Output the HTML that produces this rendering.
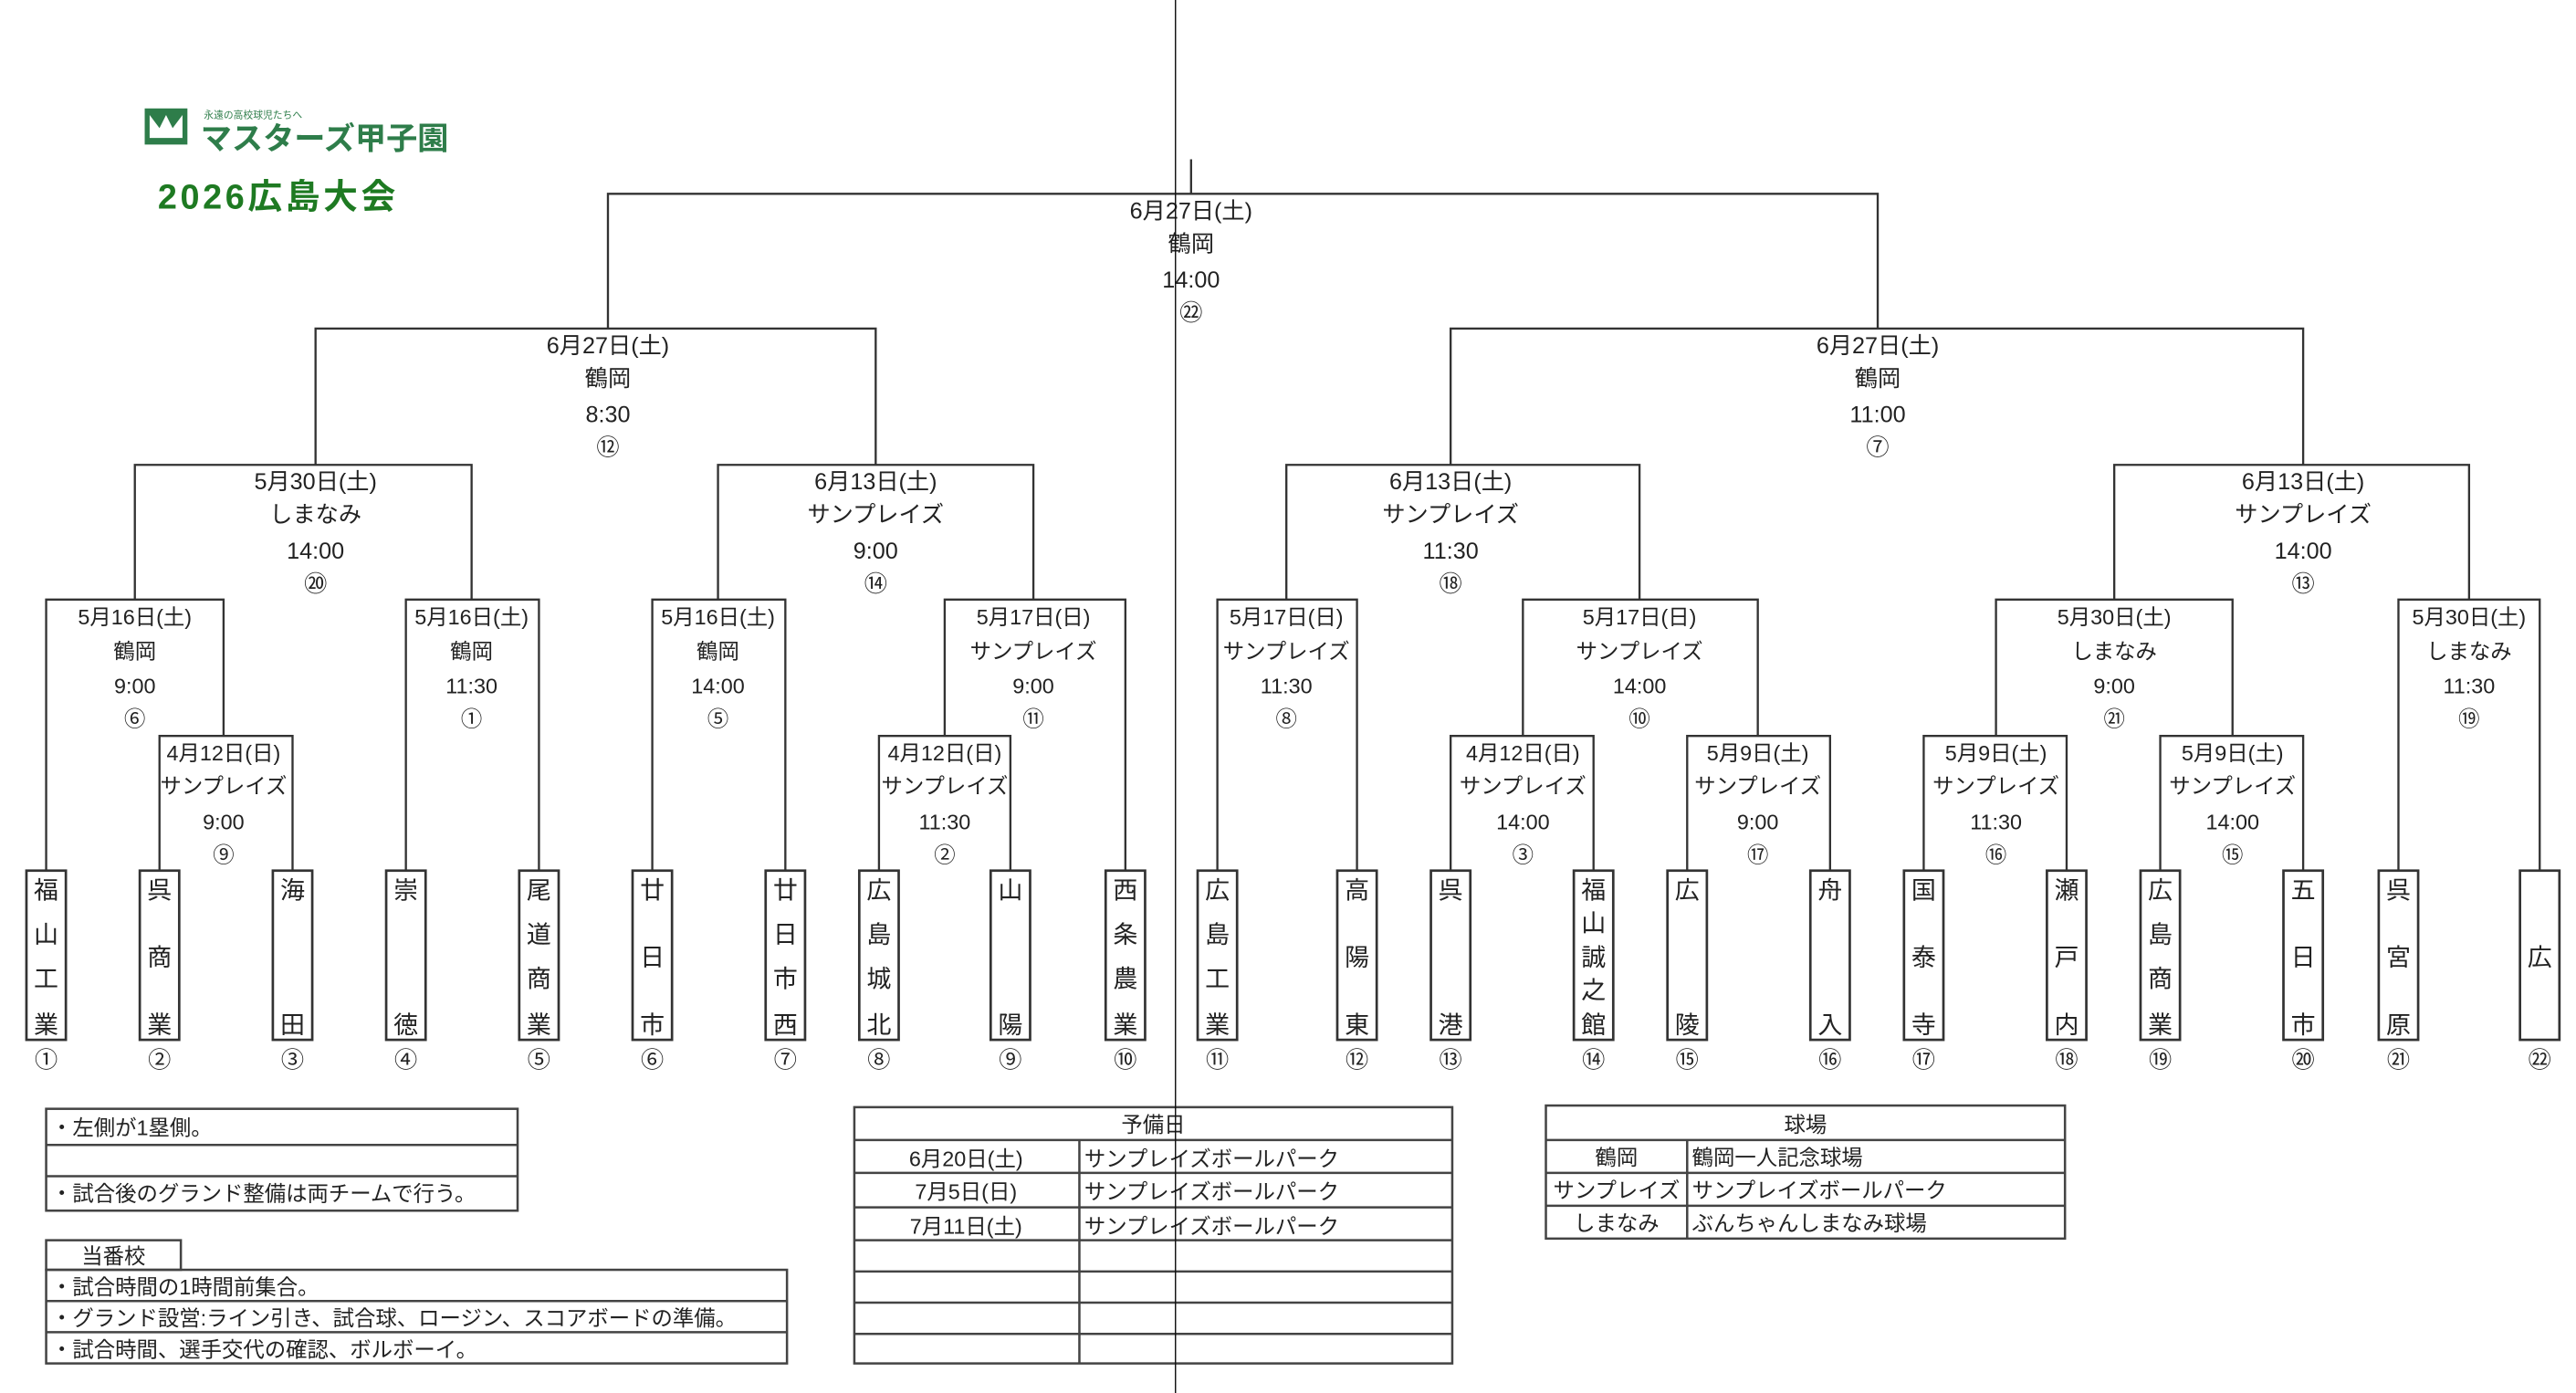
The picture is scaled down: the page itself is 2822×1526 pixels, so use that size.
<!DOCTYPE html>
<html><head><meta charset="utf-8"><style>
html,body{margin:0;padding:0;background:#fff;}
svg{display:block;}
text{font-family:"Liberation Sans","Noto Sans CJK JP",sans-serif;fill:#222;}
.c{text-anchor:middle;}
</style></head><body>
<svg width="2822" height="1526" viewBox="0 0 1568 848" xmlns="http://www.w3.org/2000/svg">
<rect width="1568" height="848" fill="#fff"/>
<!-- logo -->
<g>
<rect x="88" y="66" width="26" height="22" fill="#2e7d4a"/>
<path d="M91 70 L97 78 L101 70 L105 78 L111 70 V84 H91Z" fill="#fff"/>
<text x="124" y="72" font-size="6" style="fill:#2e7d4a">永遠の高校球児たちへ</text>
<text x="122" y="91" font-size="19" font-weight="bold" style="fill:#2e7d4a">マスターズ甲子園</text>
<text x="96" y="127" font-size="21" font-weight="bold" letter-spacing="2" style="fill:#1e7a22">2026広島大会</text>
</g>
<g fill="none" stroke="#333" stroke-width="1.3">
<path d="M370 200 V118 H1143 V200 M725 97 V118"/>
<path d="M192 283 V200 H533 V283 M883 283 V200 H1402 V283"/>
<path d="M82 365 V283 H287 V365 M437 365 V283 H629 V365 M783 365 V283 H998 V365 M1287 365 V283 H1503 V365"/>
<path d="M28 530 V365 H136 V448 M247 530 V365 H328 V530 M397 530 V365 H478 V530 M575 448 V365 H685 V530 M741 530 V365 H826 V530 M927 448 V365 H1070 V448 M1215 448 V365 H1359 V448 M1460 530 V365 H1546 V530"/>
<path d="M97 530 V448 H178 V530 M535 530 V448 H615 V530 M883 530 V448 H970 V530 M1027 530 V448 H1114 V530 M1171 530 V448 H1258 V530 M1315 530 V448 H1402 V530"/>
</g>
<!-- labels top levels -->
<g class="c" font-size="14">
<text x="725" y="133" class="c">6月27日(土)</text><text x="725" y="153" class="c">鶴岡</text><text x="725" y="175" class="c">14:00</text><text x="725" y="195" class="c">㉒</text>
<text x="370" y="215" class="c">6月27日(土)</text><text x="370" y="235" class="c">鶴岡</text><text x="370" y="257" class="c">8:30</text><text x="370" y="277" class="c">⑫</text>
<text x="1143" y="215" class="c">6月27日(土)</text><text x="1143" y="235" class="c">鶴岡</text><text x="1143" y="257" class="c">11:00</text><text x="1143" y="277" class="c">⑦</text>
<text x="192" y="298" class="c">5月30日(土)</text><text x="192" y="318" class="c">しまなみ</text><text x="192" y="340" class="c">14:00</text><text x="192" y="360" class="c">⑳</text>
<text x="533" y="298" class="c">6月13日(土)</text><text x="533" y="318" class="c">サンプレイズ</text><text x="533" y="340" class="c">9:00</text><text x="533" y="360" class="c">⑭</text>
<text x="883" y="298" class="c">6月13日(土)</text><text x="883" y="318" class="c">サンプレイズ</text><text x="883" y="340" class="c">11:30</text><text x="883" y="360" class="c">⑱</text>
<text x="1402" y="298" class="c">6月13日(土)</text><text x="1402" y="318" class="c">サンプレイズ</text><text x="1402" y="340" class="c">14:00</text><text x="1402" y="360" class="c">⑬</text>
</g>
<g font-size="13">
<text x="82" y="380" class="c">5月16日(土)</text><text x="82" y="401" class="c">鶴岡</text><text x="82" y="422" class="c">9:00</text><text x="82" y="442" class="c">⑥</text>
<text x="287" y="380" class="c">5月16日(土)</text><text x="287" y="401" class="c">鶴岡</text><text x="287" y="422" class="c">11:30</text><text x="287" y="442" class="c">①</text>
<text x="437" y="380" class="c">5月16日(土)</text><text x="437" y="401" class="c">鶴岡</text><text x="437" y="422" class="c">14:00</text><text x="437" y="442" class="c">⑤</text>
<text x="629" y="380" class="c">5月17日(日)</text><text x="629" y="401" class="c">サンプレイズ</text><text x="629" y="422" class="c">9:00</text><text x="629" y="442" class="c">⑪</text>
<text x="783" y="380" class="c">5月17日(日)</text><text x="783" y="401" class="c">サンプレイズ</text><text x="783" y="422" class="c">11:30</text><text x="783" y="442" class="c">⑧</text>
<text x="998" y="380" class="c">5月17日(日)</text><text x="998" y="401" class="c">サンプレイズ</text><text x="998" y="422" class="c">14:00</text><text x="998" y="442" class="c">⑩</text>
<text x="1287" y="380" class="c">5月30日(土)</text><text x="1287" y="401" class="c">しまなみ</text><text x="1287" y="422" class="c">9:00</text><text x="1287" y="442" class="c">㉑</text>
<text x="1503" y="380" class="c">5月30日(土)</text><text x="1503" y="401" class="c">しまなみ</text><text x="1503" y="422" class="c">11:30</text><text x="1503" y="442" class="c">⑲</text>

<text x="136" y="463" class="c">4月12日(日)</text><text x="136" y="483" class="c">サンプレイズ</text><text x="136" y="505" class="c">9:00</text><text x="136" y="525" class="c">⑨</text>
<text x="575" y="463" class="c">4月12日(日)</text><text x="575" y="483" class="c">サンプレイズ</text><text x="575" y="505" class="c">11:30</text><text x="575" y="525" class="c">②</text>
<text x="927" y="463" class="c">4月12日(日)</text><text x="927" y="483" class="c">サンプレイズ</text><text x="927" y="505" class="c">14:00</text><text x="927" y="525" class="c">③</text>
<text x="1070" y="463" class="c">5月9日(土)</text><text x="1070" y="483" class="c">サンプレイズ</text><text x="1070" y="505" class="c">9:00</text><text x="1070" y="525" class="c">⑰</text>
<text x="1215" y="463" class="c">5月9日(土)</text><text x="1215" y="483" class="c">サンプレイズ</text><text x="1215" y="505" class="c">11:30</text><text x="1215" y="525" class="c">⑯</text>
<text x="1359" y="463" class="c">5月9日(土)</text><text x="1359" y="483" class="c">サンプレイズ</text><text x="1359" y="505" class="c">14:00</text><text x="1359" y="525" class="c">⑮</text>
</g>
<!-- team boxes -->
<g fill="#fff" stroke="#333" stroke-width="1.5">
<rect x="16" y="530" width="24" height="103"/><rect x="85" y="530" width="24" height="103"/><rect x="166" y="530" width="24" height="103"/><rect x="235" y="530" width="24" height="103"/><rect x="316" y="530" width="24" height="103"/><rect x="385" y="530" width="24" height="103"/><rect x="466" y="530" width="24" height="103"/><rect x="523" y="530" width="24" height="103"/><rect x="603" y="530" width="24" height="103"/><rect x="673" y="530" width="24" height="103"/><rect x="729" y="530" width="24" height="103"/><rect x="814" y="530" width="24" height="103"/><rect x="871" y="530" width="24" height="103"/><rect x="958" y="530" width="24" height="103"/><rect x="1015" y="530" width="24" height="103"/><rect x="1102" y="530" width="24" height="103"/><rect x="1159" y="530" width="24" height="103"/><rect x="1246" y="530" width="24" height="103"/><rect x="1303" y="530" width="24" height="103"/><rect x="1390" y="530" width="24" height="103"/><rect x="1448" y="530" width="24" height="103"/><rect x="1534" y="530" width="24" height="103"/>
</g>
<g font-size="15" class="c">
<text x="28" y="547" class="c">福</text><text x="28" y="574" class="c">山</text><text x="28" y="601" class="c">工</text><text x="28" y="629" class="c">業</text>
<text x="97" y="547" class="c">呉</text><text x="97" y="588" class="c">商</text><text x="97" y="629" class="c">業</text>
<text x="178" y="547" class="c">海</text><text x="178" y="629" class="c">田</text>
<text x="247" y="547" class="c">崇</text><text x="247" y="629" class="c">徳</text>
<text x="328" y="547" class="c">尾</text><text x="328" y="574" class="c">道</text><text x="328" y="601" class="c">商</text><text x="328" y="629" class="c">業</text>
<text x="397" y="547" class="c">廿</text><text x="397" y="588" class="c">日</text><text x="397" y="629" class="c">市</text>
<text x="478" y="547" class="c">廿</text><text x="478" y="574" class="c">日</text><text x="478" y="601" class="c">市</text><text x="478" y="629" class="c">西</text>
<text x="535" y="547" class="c">広</text><text x="535" y="574" class="c">島</text><text x="535" y="601" class="c">城</text><text x="535" y="629" class="c">北</text>
<text x="615" y="547" class="c">山</text><text x="615" y="629" class="c">陽</text>
<text x="685" y="547" class="c">西</text><text x="685" y="574" class="c">条</text><text x="685" y="601" class="c">農</text><text x="685" y="629" class="c">業</text>
<text x="741" y="547" class="c">広</text><text x="741" y="574" class="c">島</text><text x="741" y="601" class="c">工</text><text x="741" y="629" class="c">業</text>
<text x="826" y="547" class="c">高</text><text x="826" y="588" class="c">陽</text><text x="826" y="629" class="c">東</text>
<text x="883" y="547" class="c">呉</text><text x="883" y="629" class="c">港</text>
<text x="970" y="547" class="c">福</text><text x="970" y="567" class="c">山</text><text x="970" y="588" class="c">誠</text><text x="970" y="608" class="c">之</text><text x="970" y="629" class="c">館</text>
<text x="1027" y="547" class="c">広</text><text x="1027" y="629" class="c">陵</text>
<text x="1114" y="547" class="c">舟</text><text x="1114" y="629" class="c">入</text>
<text x="1171" y="547" class="c">国</text><text x="1171" y="588" class="c">泰</text><text x="1171" y="629" class="c">寺</text>
<text x="1258" y="547" class="c">瀬</text><text x="1258" y="588" class="c">戸</text><text x="1258" y="629" class="c">内</text>
<text x="1315" y="547" class="c">広</text><text x="1315" y="574" class="c">島</text><text x="1315" y="601" class="c">商</text><text x="1315" y="629" class="c">業</text>
<text x="1402" y="547" class="c">五</text><text x="1402" y="588" class="c">日</text><text x="1402" y="629" class="c">市</text>
<text x="1460" y="547" class="c">呉</text><text x="1460" y="588" class="c">宮</text><text x="1460" y="629" class="c">原</text>
<text x="1546" y="588" class="c">広</text>
</g>
<g font-size="14">
<text x="28" y="650" class="c">①</text><text x="97" y="650" class="c">②</text><text x="178" y="650" class="c">③</text><text x="247" y="650" class="c">④</text><text x="328" y="650" class="c">⑤</text><text x="397" y="650" class="c">⑥</text><text x="478" y="650" class="c">⑦</text><text x="535" y="650" class="c">⑧</text><text x="615" y="650" class="c">⑨</text><text x="685" y="650" class="c">⑩</text><text x="741" y="650" class="c">⑪</text><text x="826" y="650" class="c">⑫</text><text x="883" y="650" class="c">⑬</text><text x="970" y="650" class="c">⑭</text><text x="1027" y="650" class="c">⑮</text><text x="1114" y="650" class="c">⑯</text><text x="1171" y="650" class="c">⑰</text><text x="1258" y="650" class="c">⑱</text><text x="1315" y="650" class="c">⑲</text><text x="1402" y="650" class="c">⑳</text><text x="1460" y="650" class="c">㉑</text><text x="1546" y="650" class="c">㉒</text>
</g>
<!-- tables -->
<g fill="none" stroke="#444" stroke-width="1.4">
<rect x="28" y="675" width="287" height="62"/><path d="M28 697 H315 M28 716 H315"/>
<rect x="28" y="755" width="82" height="18"/>
<rect x="28" y="773" width="451" height="57"/><path d="M28 792 H479 M28 811 H479"/>
<rect x="520" y="674" width="364" height="156"/><path d="M520 694 H884 M520 714 H884 M520 735 H884 M520 755 H884 M520 774 H884 M520 793 H884 M520 812 H884 M657 694 V830"/>
<rect x="941" y="673" width="316" height="81"/><path d="M941 694 H1257 M941 714 H1257 M941 734 H1257 M1027 694 V754"/>
</g>
<g font-size="13">
<text x="31" y="691">・左側が1塁側。</text>
<text x="31" y="731">・試合後のグランド整備は両チームで行う。</text>
<text x="69" y="769" class="c">当番校</text>
<text x="31" y="788">・試合時間の1時間前集合。</text>
<text x="31" y="807">・グランド設営:ライン引き、試合球、ロージン、スコアボードの準備。</text>
<text x="31" y="826">・試合時間、選手交代の確認、ボルボーイ。</text>
<text x="702" y="689" class="c">予備日</text>
<text x="588" y="710" class="c">6月20日(土)</text><text x="660" y="710">サンプレイズボールパーク</text>
<text x="588" y="730" class="c">7月5日(日)</text><text x="660" y="730">サンプレイズボールパーク</text>
<text x="588" y="751" class="c">7月11日(土)</text><text x="660" y="751">サンプレイズボールパーク</text>
<text x="1099" y="689" class="c">球場</text>
<text x="984" y="709" class="c">鶴岡</text><text x="1030" y="709">鶴岡一人記念球場</text>
<text x="984" y="729" class="c">サンプレイズ</text><text x="1030" y="729">サンプレイズボールパーク</text>
<text x="984" y="749" class="c">しまなみ</text><text x="1030" y="749">ぶんちゃんしまなみ球場</text>
</g>
<line x1="715.5" y1="0" x2="715.5" y2="848" stroke="#111" stroke-width="0.8"/>
</svg>
</body></html>
